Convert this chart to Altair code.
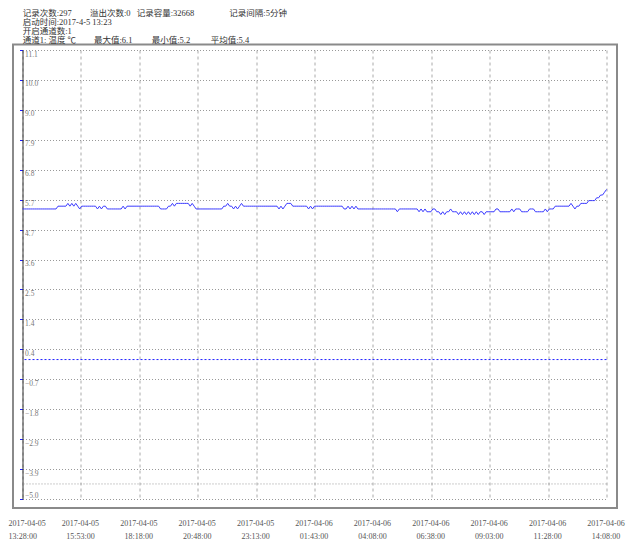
import altair as alt
import pandas as pd

# ---- data ----
temps = [
    5.4, 5.4, 5.4, 5.4, 5.4, 5.4, 5.4, 5.4, 5.4, 5.4, 5.4, 5.4, 5.4, 5.4, 5.4, 5.4, 5.4, 5.4, 5.5, 5.5,
    5.5, 5.5, 5.5, 5.6, 5.5, 5.6, 5.5, 5.6, 5.5, 5.4, 5.5, 5.5, 5.5, 5.5, 5.5, 5.5, 5.5, 5.5, 5.4, 5.5,
    5.4, 5.5, 5.5, 5.4, 5.4, 5.4, 5.4, 5.4, 5.4, 5.4, 5.4, 5.5, 5.4, 5.5, 5.5, 5.5, 5.5, 5.5, 5.5, 5.5,
    5.5, 5.5, 5.5, 5.5, 5.5, 5.5, 5.5, 5.5, 5.5, 5.5, 5.4, 5.4, 5.4, 5.4, 5.5, 5.5, 5.6, 5.5, 5.6, 5.6,
    5.6, 5.6, 5.6, 5.6, 5.6, 5.5, 5.6, 5.5, 5.4, 5.4, 5.4, 5.4, 5.4, 5.4, 5.4, 5.4, 5.4, 5.4, 5.4, 5.4,
    5.4, 5.4, 5.5, 5.5, 5.6, 5.5, 5.5, 5.4, 5.5, 5.4, 5.5, 5.6, 5.5, 5.5, 5.5, 5.5, 5.5, 5.5, 5.5, 5.5,
    5.5, 5.5, 5.5, 5.5, 5.5, 5.5, 5.5, 5.5, 5.5, 5.5, 5.4, 5.5, 5.4, 5.5, 5.6, 5.6, 5.6, 5.5, 5.5, 5.5,
    5.5, 5.5, 5.5, 5.5, 5.5, 5.4, 5.5, 5.4, 5.5, 5.5, 5.5, 5.5, 5.5, 5.5, 5.5, 5.5, 5.5, 5.5, 5.5, 5.5,
    5.5, 5.5, 5.5, 5.4, 5.4, 5.5, 5.4, 5.5, 5.4, 5.5, 5.4, 5.4, 5.4, 5.4, 5.4, 5.4, 5.4, 5.4, 5.4, 5.4,
    5.4, 5.4, 5.4, 5.4, 5.4, 5.4, 5.4, 5.4, 5.4, 5.4, 5.3, 5.4, 5.4, 5.4, 5.4, 5.4, 5.4, 5.4, 5.4, 5.4,
    5.4, 5.3, 5.4, 5.3, 5.4, 5.3, 5.3, 5.3, 5.4, 5.4, 5.3, 5.3, 5.2, 5.3, 5.2, 5.3, 5.3, 5.4, 5.3, 5.3,
    5.3, 5.2, 5.3, 5.2, 5.3, 5.2, 5.3, 5.2, 5.3, 5.2, 5.3, 5.2, 5.3, 5.3, 5.2, 5.3, 5.3, 5.3, 5.3, 5.3,
    5.4, 5.4, 5.3, 5.3, 5.3, 5.3, 5.3, 5.3, 5.4, 5.3, 5.4, 5.4, 5.4, 5.3, 5.3, 5.3, 5.3, 5.4, 5.4, 5.4,
    5.3, 5.3, 5.3, 5.3, 5.3, 5.4, 5.3, 5.4, 5.4, 5.4, 5.5, 5.5, 5.5, 5.5, 5.5, 5.5, 5.5, 5.5, 5.6, 5.5,
    5.4, 5.5, 5.5, 5.6, 5.6, 5.6, 5.6, 5.7, 5.7, 5.7, 5.7, 5.8, 5.8, 5.9, 5.9, 6.0, 6.1,
]
x_dates = ["2017-04-05"] * 5 + ["2017-04-06"] * 6
x_times = ["13:28:00", "15:53:00", "18:18:00", "20:48:00", "23:13:00", "01:43:00",
           "04:08:00", "06:38:00", "09:03:00", "11:28:00", "14:08:00"]
header_line1 = ["记录次数:297", "溢出次数:0", "记录容量:32668", "记录间隔:5分钟"]
header_line2 = "启动时间:2017-4-5 13:23"
header_line3 = "开启通道数:1"
header_line4 = ["通道1: 温度 ℃", "最大值:6.1", "最小值:5.2", "平均值:5.4"]
zero_level = [0.0]
extra_grid = [-4.46]
Y_MIN, Y_MAX = -5.0, 11.1

# ---- layout ----
W, H = 584, 449
SERIF = "Liberation Serif, Noto Sans CJK SC"
n = len(temps)
df = pd.DataFrame({"i": list(range(n)), "t": temps})
one = pd.DataFrame({"k": [0]})

step_y = (Y_MAX - Y_MIN) / 15
y_ticks = [Y_MAX - k * step_y for k in range(16)]
step_x = (n - 1) / 10
x_ticks = [k * step_x for k in range(11)]
label_arr = "[" + ",".join(f"['{d}','{t}']" for d, t in zip(x_dates, x_times)) + "]"
x_label_expr = f"{label_arr}[round(datum.value / {step_x})]"

xs = alt.Scale(domain=[0, n - 1], nice=False, zero=False)
ys = alt.Scale(domain=[Y_MIN, Y_MAX], nice=False, zero=False)

line = alt.Chart(df).mark_line(color="#3a3aff", strokeWidth=1).encode(
    x=alt.X("i:Q", scale=xs, title=None, axis=alt.Axis(
        values=x_ticks, labelExpr=x_label_expr, grid=True, gridDash=[3, 3],
        gridColor="#aaaaaa", domain=False, ticks=False, tickSize=0,
        labelPadding=20, labelLineHeight=13, labelFont=SERIF, labelFontSize=8,
        labelColor="#555555",
        labelAlign=alt.ExprRef(expr="datum.value < 1 ? 'left' : 'center'"),
        labelOffset=alt.ExprRef(expr="datum.value < 1 ? -14.5 : -1"),
        labelBaseline="top", labelOverlap=False, labelFlush=False, labelBound=False)),
    y=alt.Y("t:Q", scale=ys, title=None, axis=alt.Axis(
        values=y_ticks, format=".1f", grid=True, gridDash=[1, 2], gridColor="#999999",
        domainColor="#333333", tickColor="#2020ff", tickSize=3,
        labelAlign="left",
        labelBaseline=alt.ExprRef(expr="datum.value < -4.9 ? 'bottom' : 'top'"),
        labelPadding=-5, labelOverlap=False, labelFlush=False, labelBound=False,
        labelFont=SERIF, labelFontSize=7.5, labelColor="#777777")),
)

zero_rule = alt.Chart(pd.DataFrame({"v": zero_level})).mark_rule(
    stroke="#1f1fff", strokeDash=[2, 2], strokeWidth=1, opacity=1).encode(
    y=alt.Y("v:Q", scale=ys, axis=None))
extra_rule = alt.Chart(pd.DataFrame({"v": extra_grid})).mark_rule(
    stroke="#999999", strokeDash=[1, 2], strokeWidth=1).encode(
    y=alt.Y("v:Q", scale=ys, axis=None))

frame = alt.Chart(one).mark_rect(fill="transparent", stroke="#8a8a8a", strokeWidth=2).encode(
    x=alt.value(-9.5), x2=alt.value(594.5), y=alt.value(-5.5), y2=alt.value(458))


def txt(s, x, y):
    return alt.Chart(one).mark_text(align="left", baseline="middle", font=SERIF,
                                    fontSize=8.5, color="#333333").encode(
        x=alt.value(x), y=alt.value(y), text=alt.value(s))


texts = []
for s, x in zip(header_line1, [0.2, 67.5, 114.2, 206.8]):
    texts.append(txt(s, x, -37.5))
texts.append(txt(header_line2, 0.2, -28.5))
texts.append(txt(header_line3, 0.2, -19.5))
for s, x in zip(header_line4, [0.2, 71.5, 129.2, 188.2]):
    texts.append(txt(s, x, -10.5))

chart = alt.layer(frame, zero_rule, extra_rule, line, *texts).resolve_axis(
    y="independent", x="independent"
).properties(
    width=W, height=H,
    padding={"left": 14.5, "top": 42, "right": 20.5, "bottom": 40},
    autosize=alt.AutoSizeParams(type="none"),
).configure_view(stroke=None).configure_axisY(labelOverlap=False)

chart.save("out.html", embed_options={"renderer": "svg", "actions": False})
